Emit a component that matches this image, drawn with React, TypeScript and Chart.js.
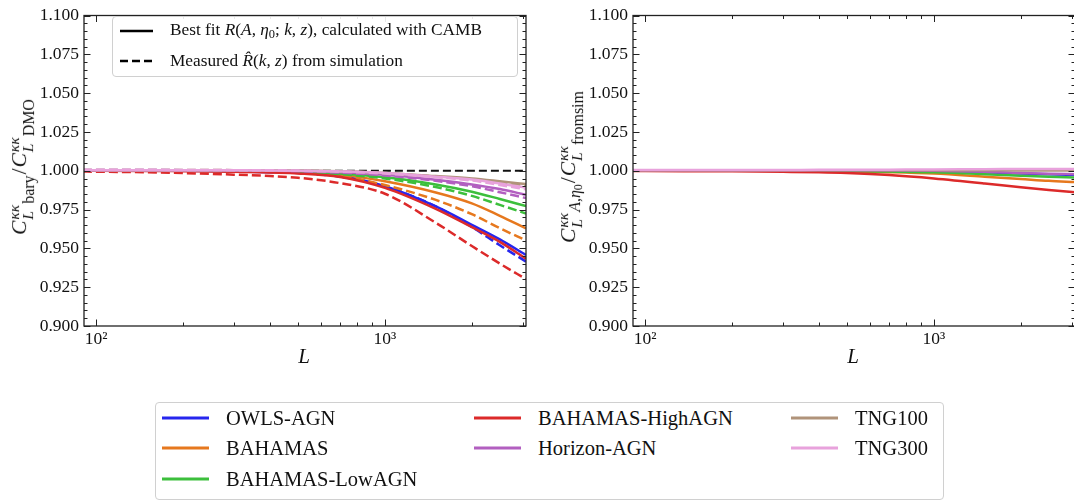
import React, { useEffect, useRef } from 'react';
import { Chart, registerables } from 'chart.js';

Chart.register(...registerables);

// ---------- data ----------
const L_VALUES = [90, 100, 150, 200, 300, 400, 500, 700, 1000, 1500, 2000, 2500, 3080];

const SIM_NAMES = ['OWLS-AGN', 'BAHAMAS', 'BAHAMAS-LowAGN', 'BAHAMAS-HighAGN', 'Horizon-AGN', 'TNG100', 'TNG300'];
const SIM_COLORS = ['#2626ee', '#e6781e', '#3cbf3c', '#dc2a2a', '#b25fc0', '#b0937a', '#e8a2dc'];

// left panel: best fit (solid)
const FIT_OWLS = [1.0002, 1.0002, 1.0001, 1.0, 0.9996, 0.9991, 0.9987, 0.9966, 0.99, 0.977, 0.9652, 0.9558, 0.9457];
const FIT_BAHAMAS = [1.0002, 1.0002, 1.0001, 1.0, 0.9998, 0.9995, 0.999, 0.9975, 0.9932, 0.986, 0.979, 0.971, 0.9629];
const FIT_LOWAGN = [1.0002, 1.0002, 1.0002, 1.0001, 0.9999, 0.9997, 0.9994, 0.9983, 0.9958, 0.9912, 0.9865, 0.9818, 0.9772];
const FIT_HIGHAGN = [1.0, 1.0, 0.9999, 0.9997, 0.9994, 0.9988, 0.9983, 0.996, 0.989, 0.9755, 0.9637, 0.9542, 0.9434];
const FIT_HORIZON = [1.0004, 1.0004, 1.0004, 1.0003, 1.0002, 1.0, 0.9998, 0.999, 0.9974, 0.9942, 0.9912, 0.9882, 0.9845];
const FIT_TNG100 = [1.0004, 1.0004, 1.0004, 1.0004, 1.0003, 1.0002, 1.0001, 0.9996, 0.9986, 0.9966, 0.995, 0.9932, 0.9914];
const FIT_TNG300 = [1.0004, 1.0004, 1.0004, 1.0004, 1.0003, 1.0002, 1.0, 0.9995, 0.9985, 0.9962, 0.9943, 0.9918, 0.9891];

// left panel: measured from simulation (dashed)
const SIM_OWLS = [1.0003, 1.0003, 1.0002, 1.0001, 0.9997, 0.9992, 0.9986, 0.9962, 0.99, 0.977, 0.9638, 0.952, 0.9415];
const SIM_BAHAMAS = [1.0002, 1.0002, 1.0001, 1.0, 0.9997, 0.9993, 0.9987, 0.9965, 0.9908, 0.9812, 0.972, 0.963, 0.9551];
const SIM_LOWAGN = [1.0002, 1.0002, 1.0002, 1.0001, 0.9999, 0.9996, 0.9992, 0.9978, 0.995, 0.9895, 0.9838, 0.978, 0.9725];
const SIM_HIGHAGN = [0.9995, 0.9994, 0.999, 0.9985, 0.9975, 0.9966, 0.9955, 0.992, 0.9852, 0.9665, 0.9515, 0.9402, 0.9302];
const SIM_HORIZON = [1.0005, 1.0005, 1.0005, 1.0004, 1.0003, 1.0001, 0.9998, 0.9988, 0.997, 0.9935, 0.99, 0.9862, 0.9824];
const SIM_TNG100 = [1.0005, 1.0005, 1.0005, 1.0005, 1.0004, 1.0003, 1.0001, 0.9995, 0.9984, 0.9962, 0.9944, 0.9925, 0.9905];
const SIM_TNG300 = [1.0006, 1.0006, 1.0006, 1.0005, 1.0004, 1.0003, 1.0001, 0.9994, 0.9982, 0.9958, 0.9937, 0.9908, 0.988];

const REFERENCE_ONE = [1.0, 1.0, 1.0, 1.0, 1.0, 1.0, 1.0, 1.0, 1.0, 1.0, 1.0, 1.0, 1.0];

// right panel: best fit / from sim
const RATIO_OWLS = [1.0002, 1.0002, 1.0002, 1.0002, 1.0002, 1.0002, 1.0001, 1.0, 0.9997, 0.999, 0.9982, 0.9977, 0.9972];
const RATIO_BAHAMAS = [1.0001, 1.0001, 1.0001, 1.0, 0.9999, 0.9998, 0.9996, 0.9991, 0.9982, 0.9962, 0.9947, 0.9935, 0.9927];
const RATIO_LOWAGN = [1.0002, 1.0002, 1.0002, 1.0001, 1.0001, 1.0, 0.9999, 0.9995, 0.999, 0.9978, 0.9968, 0.9961, 0.9956];
const RATIO_HIGHAGN = [0.9998, 0.9998, 0.9997, 0.9996, 0.9993, 0.999, 0.9985, 0.9972, 0.995, 0.9918, 0.9893, 0.9876, 0.9862];
const RATIO_HORIZON = [1.0004, 1.0004, 1.0004, 1.0004, 1.0003, 1.0003, 1.0003, 1.0002, 1.0, 0.9993, 0.9986, 0.9981, 0.9977];
const RATIO_TNG100 = [1.0003, 1.0003, 1.0003, 1.0003, 1.0003, 1.0003, 1.0003, 1.0003, 1.0003, 1.0003, 1.0002, 1.0002, 1.0002];
const RATIO_TNG300 = [1.0005, 1.0005, 1.0005, 1.0005, 1.0005, 1.0006, 1.0006, 1.0007, 1.0008, 1.001, 1.0011, 1.0012, 1.0012];

const X_MIN = 90.8;
const X_MAX = 3080;
const Y_MIN = 0.9;
const Y_MAX = 1.1;
const Y_STEP = 0.025;

const FIT_SERIES = [FIT_OWLS, FIT_BAHAMAS, FIT_LOWAGN, FIT_HIGHAGN, FIT_HORIZON, FIT_TNG100, FIT_TNG300];
const SIM_SERIES = [SIM_OWLS, SIM_BAHAMAS, SIM_LOWAGN, SIM_HIGHAGN, SIM_HORIZON, SIM_TNG100, SIM_TNG300];
const RATIO_SERIES = [RATIO_OWLS, RATIO_BAHAMAS, RATIO_LOWAGN, RATIO_HIGHAGN, RATIO_HORIZON, RATIO_TNG100, RATIO_TNG300];

// legend layout: 3 columns filled column-wise (3, 2, 2)
const LEGEND_SLOTS = [
  [0, 0], [0, 1], [0, 2],
  [1, 0], [1, 1],
  [2, 0], [2, 1],
];
const LEGEND_COLS = [162, 474, 791];
const LEGEND_ROWS = [418, 448, 479];

const FONT = '"Liberation Serif", "DejaVu Serif", serif';

const toPoints = (vals: number[]) => vals.map((v, i) => ({ x: L_VALUES[i], y: v }));

// ---------- plugin: frame + inward ticks on all sides ----------
const frameTicks = {
  id: 'frameTicks',
  afterDatasetsDraw(chart: any) {
    const { ctx, chartArea: a, scales } = chart;
    const xs = scales.x;
    const ys = scales.y;
    ctx.save();
    ctx.strokeStyle = '#222';
    ctx.lineWidth = 1;
    const seg = (x1: number, y1: number, x2: number, y2: number) => {
      ctx.beginPath();
      ctx.moveTo(x1, y1);
      ctx.lineTo(x2, y2);
      ctx.stroke();
    };
    for (let e = 1; e <= 4; e++) {
      for (let m = 1; m <= 9; m++) {
        const v = m * Math.pow(10, e);
        if (v < xs.min || v > xs.max) continue;
        const px = Math.round(xs.getPixelForValue(v)) + 0.5;
        const len = m === 1 ? 6.5 : 3.5;
        seg(px, a.bottom, px, a.bottom - len);
        seg(px, a.top, px, a.top + len);
      }
    }
    const nMinor = Math.round((Y_MAX - Y_MIN) / 0.005);
    for (let i = 0; i <= nMinor; i++) {
      const v = Y_MIN + i * 0.005;
      const py = Math.round(ys.getPixelForValue(v)) + 0.5;
      const len = i % 5 === 0 ? 6.5 : 3.5;
      seg(a.left, py, a.left + len, py);
      seg(a.right, py, a.right - len, py);
    }
    ctx.lineWidth = 1.3;
    ctx.strokeRect(a.left, a.top, a.right - a.left, a.bottom - a.top);
    ctx.restore();
  },
};

const makeOptions = () => ({
  responsive: false,
  animation: false as const,
  devicePixelRatio: 1,
  layout: { padding: { top: 8, right: 34, left: 0, bottom: 0 } },
  plugins: { legend: { display: false }, tooltip: { enabled: false } },
  elements: { point: { radius: 0 }, line: { cubicInterpolationMode: 'monotone' as const } },
  scales: {
    x: {
      type: 'logarithmic' as const,
      min: X_MIN,
      max: X_MAX,
      grid: { display: false, drawTicks: false },
      border: { display: false },
      afterFit: (s: any) => {
        s.height = 54;
        s.paddingLeft = 0;
        s.paddingRight = 0;
      },
      ticks: {
        autoSkip: false,
        maxRotation: 0,
        padding: 3,
        color: '#111',
        font: { family: FONT, size: 17.5 },
        callback: (v: any) => {
          const lv = Math.log10(Number(v));
          if (Math.abs(lv - 2) < 1e-6) return '10²';
          if (Math.abs(lv - 3) < 1e-6) return '10³';
          return '';
        },
      },
    },
    y: {
      type: 'linear' as const,
      min: Y_MIN,
      max: Y_MAX,
      grid: { display: false, drawTicks: false },
      border: { display: false },
      afterFit: (s: any) => {
        s.width = 84;
      },
      ticks: {
        stepSize: Y_STEP,
        padding: 5,
        color: '#111',
        font: { family: FONT, size: 17.5 },
        callback: (v: any) => Number(v).toFixed(3),
      },
    },
  },
});

function buildLeft() {
  const ds: any[] = [];
  ds.push({
    data: toPoints(REFERENCE_ONE),
    borderColor: '#111',
    borderWidth: 2.2,
    borderDash: [8, 4],
    order: 100,
  });
  SIM_NAMES.forEach((name, i) => {
    ds.push({
      label: name + ' fit',
      data: toPoints(FIT_SERIES[i]),
      borderColor: SIM_COLORS[i],
      borderWidth: 2.5,
      order: 50 - i * 2,
    });
    ds.push({
      label: name + ' sim',
      data: toPoints(SIM_SERIES[i]),
      borderColor: SIM_COLORS[i],
      borderWidth: 2.5,
      borderDash: [9, 4],
      order: 49 - i * 2,
    });
  });
  return ds;
}

function buildRight() {
  return SIM_NAMES.map((name, i) => ({
    label: name,
    data: toPoints(RATIO_SERIES[i]),
    borderColor: SIM_COLORS[i],
    borderWidth: 2.5,
    order: 50 - i,
  }));
}

function ChartCanvas({ left, datasets }: { left: number; datasets: any[] }) {
  const ref = useRef<HTMLCanvasElement | null>(null);
  useEffect(() => {
    if (!ref.current) return;
    const chart = new Chart(ref.current, {
      type: 'line',
      data: { datasets },
      options: makeOptions() as any,
      plugins: [frameTicks as any],
    });
    return () => chart.destroy();
  }, []);
  return (
    <canvas
      ref={ref}
      width={560}
      height={380}
      style={{ position: 'absolute', left, top: 0, width: 560, height: 380 }}
    />
  );
}

function CLL({ children }: { children: React.ReactNode }) {
  return (
    <span style={{ display: 'inline-flex', alignItems: 'center' }}>
      <i>C</i>
      <span
        style={{
          display: 'inline-flex',
          flexDirection: 'column',
          fontSize: '0.72em',
          lineHeight: '0.9',
          marginLeft: 1,
          marginTop: 2,
        }}
      >
        <i>κκ</i>
        <i>L</i>
      </span>
      <span style={{ fontSize: '0.74em', alignSelf: 'flex-end', marginBottom: -3, marginLeft: 1 }}>{children}</span>
    </span>
  );
}

function YTitle({ cx, cy, sub1, sub2 }: { cx: number; cy: number; sub1: React.ReactNode; sub2: React.ReactNode }) {
  return (
    <div
      style={{
        position: 'absolute',
        left: cx,
        top: cy,
        transform: 'translate(-50%, -50%) rotate(-90deg)',
        whiteSpace: 'nowrap',
        fontFamily: FONT,
        fontSize: 21.5,
        color: '#111',
        display: 'flex',
        alignItems: 'center',
      }}
    >
      <CLL>{sub1}</CLL>
      <span style={{ margin: '0 1px' }}>/</span>
      <CLL>{sub2}</CLL>
    </div>
  );
}

function LineSample({ color, dashed, width = 47, thick = 2.5 }: { color: string; dashed?: boolean; width?: number; thick?: number }) {
  return (
    <svg width={width} height={8} style={{ display: 'block' }}>
      <line
        x1={0}
        y1={4}
        x2={width}
        y2={4}
        stroke={color}
        strokeWidth={thick}
        strokeDasharray={dashed ? '8 4' : undefined}
      />
    </svg>
  );
}

export default function App() {
  const leftDs = buildLeft();
  const rightDs = buildRight();
  return (
    <div
      style={{
        position: 'absolute',
        left: 0,
        top: 0,
        width: 1074,
        height: 502,
        overflow: 'hidden',
        background: '#fff',
        fontFamily: FONT,
        color: '#111',
      }}
    >
      <ChartCanvas left={0} datasets={leftDs} />
      <ChartCanvas left={549} datasets={rightDs} />

      <YTitle cx={20} cy={167} sub1={<span>bary</span>} sub2={<span>DMO</span>} />
      <YTitle
        cx={569}
        cy={167}
        sub1={
          <span>
            <i>A</i>,<i>η</i>
            <span style={{ fontSize: '0.75em', verticalAlign: '-0.2em' }}>0</span>
          </span>
        }
        sub2={<span>fromsim</span>}
      />

      <div style={{ position: 'absolute', left: 304, top: 356, transform: 'translate(-50%, -50%)', fontSize: 21 }}>
        <i>L</i>
      </div>
      <div style={{ position: 'absolute', left: 853, top: 356, transform: 'translate(-50%, -50%)', fontSize: 21 }}>
        <i>L</i>
      </div>

      {/* inner legend */}
      <div
        style={{
          position: 'absolute',
          left: 112,
          top: 16,
          width: 404,
          height: 59,
          border: '1px solid #d0d0d0',
          borderRadius: 4,
          background: 'rgba(255,255,255,0.9)',
          fontSize: 17.3,
        }}
      >
        <div style={{ position: 'absolute', left: 7, top: 10 }}>
          <LineSample color="#000" width={33} />
        </div>
        <div style={{ position: 'absolute', left: 57, top: 14, transform: 'translateY(-50%)', whiteSpace: 'nowrap' }}>
          Best fit <i>R</i>(<i>A</i>, <i>η</i>
          <span style={{ fontSize: '0.72em', verticalAlign: '-0.2em' }}>0</span>; <i>k</i>, <i>z</i>), calculated with CAMB
        </div>
        <div style={{ position: 'absolute', left: 7, top: 40 }}>
          <LineSample color="#000" dashed width={33} />
        </div>
        <div style={{ position: 'absolute', left: 57, top: 44, transform: 'translateY(-50%)', whiteSpace: 'nowrap' }}>
          Measured <i>R̂</i>(<i>k</i>, <i>z</i>) from simulation
        </div>
      </div>

      {/* bottom legend */}
      <div
        style={{
          position: 'absolute',
          left: 155,
          top: 402,
          width: 787,
          height: 96,
          border: '1px solid #d0d0d0',
          borderRadius: 4,
          background: '#fff',
        }}
      />
      {SIM_NAMES.map((name, i) => {
        const [col, row] = LEGEND_SLOTS[i];
        const x = LEGEND_COLS[col];
        const y = LEGEND_ROWS[row];
        return (
          <React.Fragment key={name}>
            <div style={{ position: 'absolute', left: x, top: y - 4 }}>
              <LineSample color={SIM_COLORS[i]} width={47} thick={3} />
            </div>
            <div
              style={{
                position: 'absolute',
                left: x + 64,
                top: y,
                transform: 'translateY(-50%)',
                fontSize: 20.5,
                whiteSpace: 'nowrap',
              }}
            >
              {name}
            </div>
          </React.Fragment>
        );
      })}
    </div>
  );
}
